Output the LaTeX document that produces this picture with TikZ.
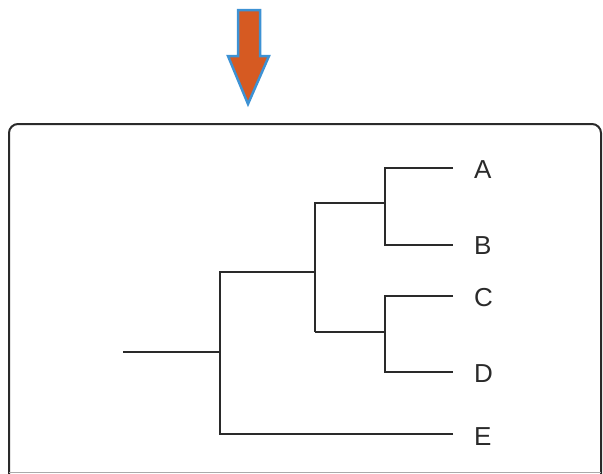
\documentclass[tikz,border=0pt]{standalone}
\usepackage{fontspec}
\setmainfont{Liberation Sans}
\definecolor{arroworange}{HTML}{D65A22}
\definecolor{arrowblue}{HTML}{3D92D4}
\definecolor{treeline}{HTML}{2A2A2A}
\begin{document}
\begin{tikzpicture}[x=1pt,y=-1pt,
  branch/.style={draw=treeline,line width=2.8pt,line cap=butt,line join=miter},
  leaflabel/.style={anchor=west,inner sep=0pt,font=\fontsize{26}{30}\selectfont,text=treeline},
  frame/.style={draw=treeline,line width=2pt,rounded corners=9pt},
  bigarrow/.style={fill=arroworange,draw=arrowblue,line width=2.5pt,line join=miter}]
\useasboundingbox (0,0) rectangle (603,474);
% frame
\draw[frame] (9,474+20) -- (9,124) -- (601,124) -- (601,474+20);
\draw[treeline!40,line width=1pt] (9,472) -- (601,472);
% arrow
\draw[bigarrow] (238,10) -- (260,10) -- (260,56) -- (269,56) -- (248,104) -- (228,56) -- (238,56) -- cycle;
% coordinates
\coordinate (root) at (123,352);
\coordinate (n1) at (220,352);
\coordinate (n1t) at (220,272);
\coordinate (n1b) at (220,434);
\coordinate (n2) at (315,272);
\coordinate (n2t) at (315,203);
\coordinate (n2b) at (315,332);
\coordinate (n3) at (385,203);
\coordinate (n3t) at (385,168);
\coordinate (n3b) at (385,245);
\coordinate (n4) at (385,332);
\coordinate (n4t) at (385,296);
\coordinate (n4b) at (385,372);
\coordinate (lA) at (453,168);
\coordinate (lB) at (453,245);
\coordinate (lC) at (453,296);
\coordinate (lD) at (453,372);
\coordinate (lE) at (453,434);
% labels
\node[leaflabel] (A) at (474,170) {A};
\node[leaflabel] (B) at (474,246) {B};
\node[leaflabel] (C) at (474,298) {C};
\node[leaflabel] (D) at (474,374) {D};
\node[leaflabel] (E) at (474,437) {E};
% tree
\draw[branch] (root) -- (n1);
\draw[branch] (lE) -- (n1b) -- (n1t) -- (n2);
\draw[branch] (n2b) -- (n2t) -- (n3);
\draw[branch] (n2b) -- (n4);
\draw[branch] (lA) -- (n3t) -- (n3b) -- (lB);
\draw[branch] (lC) -- (n4t) -- (n4b) -- (lD);
\end{tikzpicture}
\end{document}
